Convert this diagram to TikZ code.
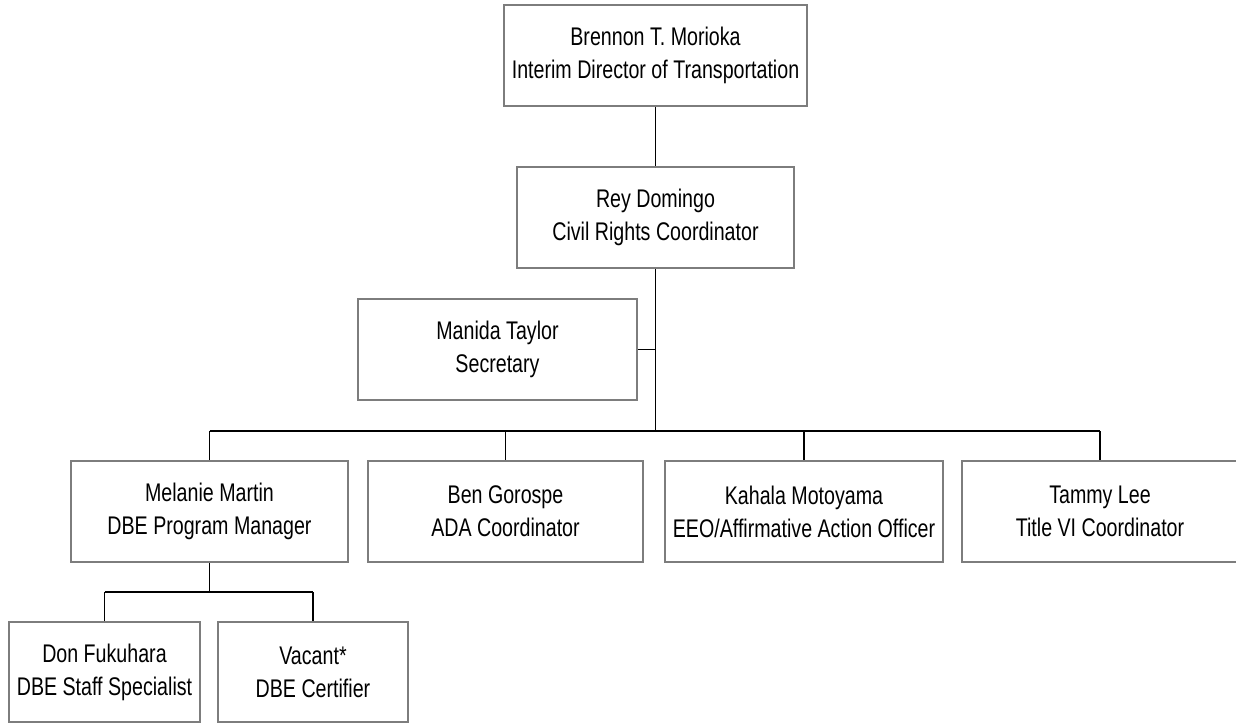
\documentclass[tikz,border=0pt]{standalone}
\usepackage{fontspec}
\setmainfont[FakeStretch=0.77]{Liberation Sans}
\definecolor{bordergray}{RGB}{125,125,125}
\begin{document}
\begin{tikzpicture}[x=1pt,y=-1pt,
  box/.style={draw=bordergray, line width=1.6pt, minimum height=101pt, inner sep=0pt, align=center, font=\fontsize{25.5}{33}\selectfont},
  conn/.style={line width=1.3pt},
  bus/.style={line width=2.4pt}]
\useasboundingbox (0,0) rectangle (1236,723);
\node[box, minimum width=303pt] (top) at (655.5,55.5) {Brennon T. Morioka\\Interim Director of Transportation};
\node[box, minimum width=277pt] (rey) at (655.5,217.5) {Rey Domingo\\Civil Rights Coordinator};
\node[box, minimum width=279pt] (man) at (497.5,349.5) {Manida Taylor\\Secretary};
\node[box, minimum width=277pt] (mel) at (209.5,511.5) {Melanie Martin\\DBE Program Manager};
\node[box, minimum width=275pt] (ben) at (505.5,511.5) {Ben Gorospe\\ADA Coordinator};
\node[box, minimum width=278pt] (kah) at (804,511.5) {Kahala Motoyama\\EEO/Affirmative Action Officer};
\node[box, minimum width=276pt] (tam) at (1100,511.5) {Tammy Lee\\Title VI Coordinator};
\node[box, minimum width=191pt, minimum height=100pt] (don) at (104.5,672) {Don Fukuhara\\DBE Staff Specialist};
\node[box, minimum width=190pt, minimum height=100pt] (vac) at (313,672) {Vacant*\\DBE Certifier};
\coordinate (busC) at (655.5,431);
\coordinate (subC) at (209.5,592);
\draw[conn] (top.south) -- (rey.north);
\draw[line width=1.6pt] (rey.south) -- (busC);
\draw[line width=1.6pt] (man.east) -- (man.east -| busC);
\draw[bus] (mel.north |- busC) -- (tam.north |- busC);
\draw[conn] (mel.north |- busC) -- (mel.north);
\draw[conn] (ben.north |- busC) -- (ben.north);
\draw[conn] (kah.north |- busC) -- (kah.north);
\draw[conn] (tam.north |- busC) -- (tam.north);
\draw[conn] (mel.south) -- (subC);
\draw[line width=2.2pt] (don.north |- subC) -- (vac.north |- subC);
\draw[conn] (don.north |- subC) -- (don.north);
\draw[conn] (vac.north |- subC) -- (vac.north);
\end{tikzpicture}
\end{document}
